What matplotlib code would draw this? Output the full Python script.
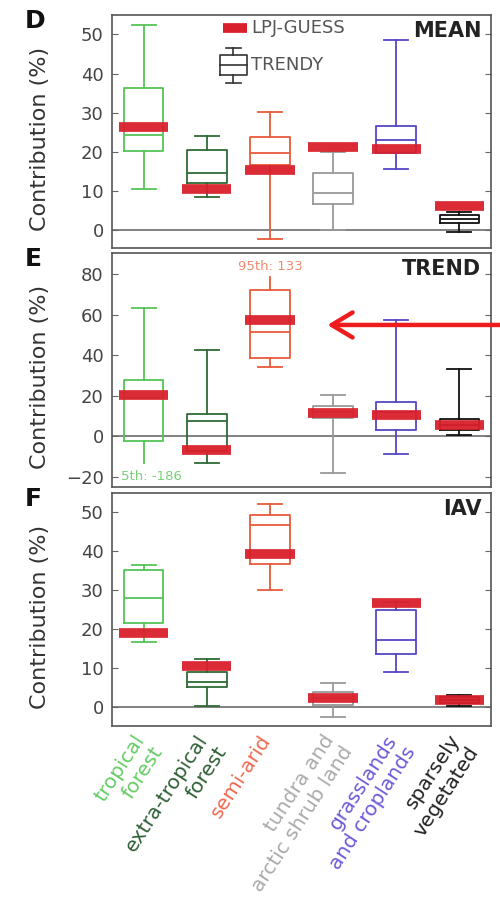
import matplotlib.pyplot as plt
import matplotlib.transforms as mtrans
import numpy as np

plt.rcParams['font.family'] = ['DejaVu Sans']

regions = ['tropical\nforest', 'extra-tropical\nforest', 'semi-arid',
           'tundra and\narctic shrub land', 'grasslands\nand croplands',
           'sparsely\nvegetated']
box_colors = ['#55c455', '#2f6a36', '#e85a3c', '#999999', '#5547c8', '#111111']
label_colors = ['#66cc66', '#2f5f34', '#ee6a50', '#aaaaaa', '#6a5ad8', '#222222']
lpj_color = '#d91f2b'

# TRENDY ensemble spread (5th, 25th, 50th, 75th, 95th percentiles) and LPJ-GUESS value, in %
mean_lo = [10.5, 8.5, -2.4, 0.0, 15.6, -0.6]
mean_q1 = [20.2, 12.0, 16.6, 6.6, 19.6, 1.7]
mean_med = [24.2, 14.5, 19.6, 9.5, 23.1, 2.8]
mean_q3 = [36.4, 20.4, 23.8, 14.6, 26.6, 3.8]
mean_hi = [52.4, 24.0, 30.2, 20.0, 48.5, 4.5]
mean_lpj = [26.4, 10.5, 15.3, 21.3, 20.7, 6.1]

trend_lo = [-186, -13.1, 34.2, -18.0, -8.7, 0.5]
trend_q1 = [-2.5, -7.0, 38.6, 9.0, 3.0, 3.0]
trend_med = [19.0, 7.4, 51.7, 12.0, 12.0, 5.4]
trend_q3 = [27.9, 11.2, 72.3, 14.8, 16.9, 8.5]
trend_hi = [63.2, 42.7, 133, 20.5, 57.5, 33.3]
trend_lpj = [20.5, -6.5, 57.5, 11.5, 10.7, 5.8]

iav_lo = [16.8, 0.3, 30.0, -2.4, 9.1, 0.3]
iav_q1 = [21.5, 5.1, 36.6, 0.6, 13.6, 1.0]
iav_med = [28.1, 6.5, 46.6, 2.3, 17.2, 1.8]
iav_q3 = [35.1, 9.1, 49.2, 4.0, 25.0, 2.6]
iav_hi = [36.4, 12.5, 52.2, 6.1, 27.0, 3.2]
iav_lpj = [19.1, 10.6, 39.2, 2.5, 26.6, 1.9]

# whiskers running off the axis range are cut short and labelled with their value
trend_range = (-25.0, 90.5)
trend_stub = (-13.0, 78.5)


def draw_panel(ax, lo, q1, med, q3, hi, lpj, yrange, stub=None):
    pos = np.arange(1, len(lo) + 1)
    ax.axhline(0, color='#777777', lw=1.3, zorder=1)
    for i, p in enumerate(pos):
        c = box_colors[i]
        lo_d, hi_d = lo[i], hi[i]
        if stub is not None and lo[i] < yrange[0]:
            lo_d = stub[0]
        if stub is not None and hi[i] > yrange[1]:
            hi_d = stub[1]
        st = dict(whislo=lo_d, q1=q1[i], med=med[i], q3=q3[i], whishi=hi_d)
        props = dict(color=c, lw=1.3)
        art = ax.bxp([st], positions=[p], widths=0.63, capwidths=0.38,
                     showfliers=False, manage_ticks=False, patch_artist=False,
                     boxprops=props, whiskerprops=props, capprops=props,
                     medianprops=props, zorder=3)
        if lo_d != lo[i]:
            art['caps'][0].set_visible(False)
            ax.annotate(f'5th: {lo[i]:.0f}', xy=(p, lo_d), xytext=(-16, -10),
                        textcoords='offset points', ha='left', va='center',
                        fontsize=9.5, color='#77d077')
        if hi_d != hi[i]:
            art['caps'][1].set_visible(False)
            ax.annotate(f'95th: {hi[i]:.0f}', xy=(p, hi_d), xytext=(0, 8),
                        textcoords='offset points', ha='center', va='center',
                        fontsize=9.5, color='#f08a70')
        ax.plot([p - 0.39, p + 0.39], [lpj[i], lpj[i]], color=lpj_color,
                lw=7, solid_capstyle='butt', alpha=0.95, zorder=4)

    ax.set_xlim(0.5, len(lo) + 0.5)
    ax.set_ylim(*yrange)
    ax.set_xticks(pos)
    ax.tick_params(axis='x', length=0)
    ax.tick_params(axis='y', direction='in', right=True, length=4,
                   color='#666666', labelsize=13, labelcolor='#444444', pad=6)
    for s in ax.spines.values():
        s.set_color('#555555')
        s.set_linewidth(1.2)
    ax.set_ylabel('Contribution (%)', fontsize=16, color='#333333')
    ax.yaxis.set_label_coords(-0.163, 0.47)


fig = plt.figure(figsize=(5, 9.02), dpi=100)
ax_d = fig.add_axes([0.224, 0.725, 0.758, 0.2585])
ax_e = fig.add_axes([0.224, 0.460, 0.758, 0.2595])
ax_f = fig.add_axes([0.224, 0.1951, 0.758, 0.2583])

draw_panel(ax_d, mean_lo, mean_q1, mean_med, mean_q3, mean_hi, mean_lpj, (-4.6, 55))
draw_panel(ax_e, trend_lo, trend_q1, trend_med, trend_q3, trend_hi, trend_lpj,
           trend_range, stub=trend_stub)
draw_panel(ax_f, iav_lo, iav_q1, iav_med, iav_q3, iav_hi, iav_lpj, (-4.8, 54.9))

ax_d.set_yticks(np.arange(0, 51, 10))
ax_e.set_yticks(np.arange(-20, 81, 20))
ax_f.set_yticks(np.arange(0, 51, 10))

for ax in (ax_d, ax_e):
    ax.set_xticklabels([])

ax_f.tick_params(axis='x', pad=3)
ax_f.set_xticklabels(regions, rotation=57, ha='right', va='top',
                     rotation_mode='anchor', fontsize=14.5)
shift = mtrans.ScaledTranslation(-0.11, -0.01, fig.dpi_scale_trans)
for lab, c in zip(ax_f.get_xticklabels(), label_colors):
    lab.set_color(c)
    lab.set_transform(lab.get_transform() + shift)

for ax, letter, name in ((ax_d, 'D', 'MEAN'), (ax_e, 'E', 'TREND'), (ax_f, 'F', 'IAV')):
    ax.text(0.974, 0.932, name, transform=ax.transAxes, ha='right', va='center',
            fontsize=15, fontweight='bold', color='#222222')
    ax.text(-0.229, 1.025, letter, transform=ax.transAxes, ha='left', va='top',
            fontsize=18, fontweight='bold', color='#111111')

# legend in the MEAN panel
tr = ax_d.transAxes
ax_d.plot([0.293, 0.356], [0.944, 0.944], transform=tr, color=lpj_color, lw=7,
          solid_capstyle='butt')
ax_d.text(0.368, 0.944, 'LPJ-GUESS', transform=tr, va='center', fontsize=13, color='#555555')
leg_kw = dict(transform=tr, color='#333333', lw=1.2)
bx0, bx1, bxm = 0.286, 0.355, 0.3205
ax_d.plot([bx0, bx1, bx1, bx0, bx0], [0.742, 0.742, 0.828, 0.828, 0.742], **leg_kw)
ax_d.plot([bx0, bx1], [0.785, 0.785], **leg_kw)
ax_d.plot([bxm, bxm], [0.828, 0.858], **leg_kw)
ax_d.plot([bxm, bxm], [0.742, 0.708], **leg_kw)
ax_d.plot([bxm - 0.02, bxm + 0.02], [0.858, 0.858], **leg_kw)
ax_d.plot([bxm - 0.02, bxm + 0.02], [0.708, 0.708], **leg_kw)
ax_d.text(0.368, 0.785, 'TRENDY', transform=tr, va='center', fontsize=13, color='#555555')

# red arrow pointing at the semi-arid trend box
arrow_tr = mtrans.blended_transform_factory(fig.transFigure, ax_e.transData)
ax_e.annotate('', xy=(3.91, 55), xycoords='data', xytext=(1.02, 55), textcoords=arrow_tr,
              arrowprops=dict(arrowstyle='->,head_length=1.5,head_width=0.9',
                              color='#ee1c1c', lw=3.2, shrinkA=0, shrinkB=0,
                              mutation_scale=10),
              annotation_clip=False)

fig.savefig('out.png', dpi=100)
